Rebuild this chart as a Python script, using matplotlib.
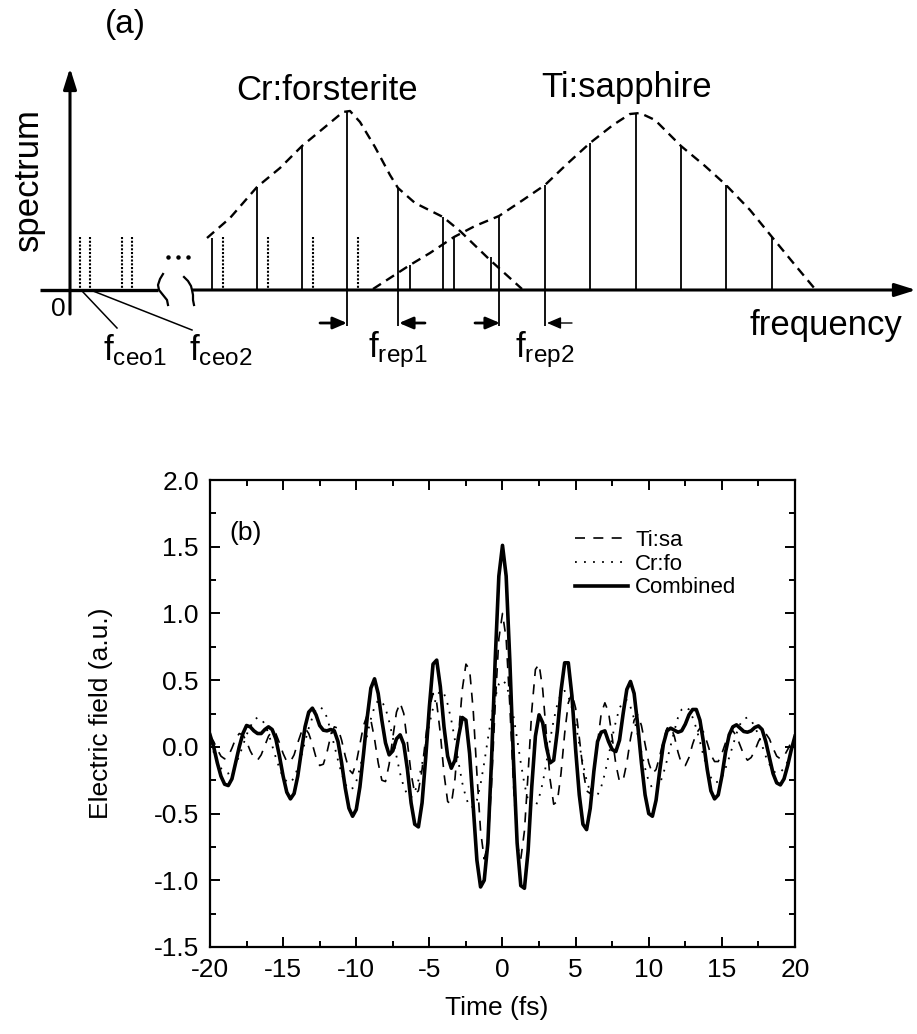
import matplotlib
matplotlib.use('Agg')
import matplotlib.pyplot as plt
import numpy as np

plt.rcParams['font.family'] = ['Liberation Sans', 'DejaVu Sans']
plt.rcParams['mathtext.fontset'] = 'custom'
plt.rcParams['mathtext.rm'] = 'Liberation Sans'
plt.rcParams['mathtext.it'] = 'Liberation Sans'
plt.rcParams['axes.unicode_minus'] = False

# ---------------- panel (a): comb schematic (page pixel coordinates) ----------------
BASE_Y = 290

# Cr:forsterite comb teeth (solid) and their heights
cr_comb_x = [212, 257, 302, 347, 398, 443, 491]
cr_comb_top = [238, 187, 145, 112, 188, 217, 257]
# Ti:sapphire comb teeth
ti_comb_x = [410, 454, 499, 545, 590, 636, 681, 726, 772]
ti_comb_top = [265, 237, 217, 185, 143, 113, 146, 185, 237]
# dotted (offset) teeth
ceo_comb_x = [80, 90, 122, 132, 223, 268, 313, 358]
ceo_comb_top = 237
# teeth that run down to the f_rep arrows
rep_teeth_x = [347, 398, 499, 545]

# dashed spectral envelopes
cr_env_x = [207, 230, 257, 280, 302, 325, 343, 350, 360, 375, 390, 398, 415, 443, 460, 490, 522]
cr_env_y = [238, 218, 187, 168, 146, 127, 112, 111, 122, 147, 175, 188, 203, 217, 231, 260, 289]
ti_env_x = [373, 390, 410, 430, 454, 475, 499, 523, 545, 567, 590, 613, 630, 640, 655, 681, 705,
            726, 750, 772, 795, 815]
ti_env_y = [289, 278, 265, 253, 237, 226, 216, 200, 185, 164, 143, 125, 114, 113, 120, 146, 166,
            185, 210, 237, 265, 289]

# axis break squiggles
brk_left_x = [163, 160, 158, 159, 163, 167, 168]
brk_left_y = [274, 279, 285, 290, 295, 300, 305]
brk_right_x = [184, 188, 191, 192, 193, 193, 194]
brk_right_y = [277, 281, 286, 290, 295, 300, 305]

# f_rep arrows (start x, end x)
rep_arrows = [(320, 347), (425, 399), (475, 500), (572, 547)]

# ---------------- panel (b): electric field vs time ----------------
time_fs = np.arange(-20, 20.001, 0.25)

combined = [
    0.09, 0.00, -0.12, -0.22, -0.28, -0.29, -0.24, -0.12, 0.00, 0.10,
    0.16, 0.15, 0.12, 0.10, 0.10, 0.13, 0.15, 0.13, 0.06, -0.07,
    -0.22, -0.34, -0.39, -0.35, -0.22, -0.03, 0.15, 0.26, 0.29, 0.24,
    0.16, 0.125, 0.12, 0.13, 0.12, 0.04, -0.12, -0.31, -0.46, -0.52,
    -0.47, -0.30, -0.05, 0.22, 0.44, 0.51, 0.40, 0.20, 0.03, -0.06,
    -0.03, 0.06, 0.09, 0.02, -0.17, -0.42, -0.58, -0.60, -0.42, -0.08,
    0.30, 0.62, 0.65, 0.45, 0.15, -0.07, -0.16, -0.10, 0.08, 0.22,
    0.20, -0.05, -0.45, -0.85, -1.05, -1.00, -0.72, -0.10, 0.65, 1.28,
    1.51, 1.28, 0.65, -0.10, -0.72, -1.04, -1.06, -0.78, -0.30, 0.08,
    0.24, 0.18, 0.00, -0.12, -0.10, 0.12, 0.42, 0.63, 0.63, 0.38,
    -0.02, -0.36, -0.58, -0.62, -0.46, -0.18, 0.04, 0.11, 0.12, 0.04,
    -0.02, -0.035, 0.05, 0.25, 0.43, 0.49, 0.40, 0.16, -0.12, -0.36,
    -0.50, -0.52, -0.40, -0.18, 0.02, 0.12, 0.14, 0.125, 0.11, 0.12,
    0.17, 0.24, 0.28, 0.28, 0.20, 0.03, -0.17, -0.33, -0.39, -0.36,
    -0.22, -0.04, 0.09, 0.15, 0.165, 0.14, 0.115, 0.11, 0.12, 0.145,
    0.157, 0.13, 0.04, -0.08, -0.20, -0.27, -0.285, -0.24, -0.14, -0.02,
    0.08]

ti_sa = [
    0.08, 0.04, -0.02, -0.07, -0.09, -0.07, -0.01, 0.06, 0.10, 0.09,
    0.04, -0.03, -0.08, -0.10, -0.06, 0.01, 0.08, 0.12, 0.10, 0.03,
    -0.05, -0.11, -0.11, -0.06, 0.03, 0.11, 0.14, 0.10, 0.02, -0.08,
    -0.14, -0.13, -0.04, 0.08, 0.15, 0.14, 0.05, -0.07, -0.17, -0.20,
    -0.12, 0.02, 0.16, 0.24, 0.20, 0.06, -0.12, -0.25, -0.26, -0.13,
    0.07, 0.26, 0.33, 0.25, 0.03, -0.20, -0.35, -0.33, -0.17, 0.07,
    0.29, 0.40, 0.33, 0.10, -0.20, -0.41, -0.43, -0.24, 0.10, 0.43,
    0.62, 0.58, 0.27, -0.20, -0.63, -0.84, -0.73, -0.28, 0.31, 0.81,
    1.00, 0.81, 0.31, -0.28, -0.73, -0.84, -0.63, -0.20, 0.27, 0.58,
    0.62, 0.43, 0.10, -0.24, -0.43, -0.41, -0.20, 0.10, 0.33, 0.40,
    0.29, 0.07, -0.17, -0.33, -0.35, -0.20, 0.03, 0.25, 0.33, 0.26,
    0.07, -0.13, -0.26, -0.25, -0.12, 0.06, 0.20, 0.24, 0.16, 0.02,
    -0.12, -0.20, -0.17, -0.07, 0.05, 0.14, 0.15, 0.08, -0.04, -0.13,
    -0.14, -0.08, 0.02, 0.10, 0.14, 0.11, 0.03, -0.06, -0.11, -0.11,
    -0.05, 0.03, 0.10, 0.12, 0.08, 0.01, -0.06, -0.10, -0.08, -0.03,
    0.04, 0.09, 0.10, 0.06, -0.01, -0.07, -0.09, -0.07, -0.02, 0.04,
    0.08]

cr_fo = [
    0.03, -0.04, -0.11, -0.16, -0.19, -0.20, -0.18, -0.13, -0.07, 0.01,
    0.09, 0.15, 0.20, 0.22, 0.21, 0.17, 0.10, 0.01, -0.08, -0.16,
    -0.23, -0.26, -0.27, -0.23, -0.16, -0.07, 0.04, 0.14, 0.22, 0.28,
    0.30, 0.28, 0.22, 0.12, 0.01, -0.10, -0.20, -0.28, -0.32, -0.31,
    -0.26, -0.16, -0.04, 0.09, 0.21, 0.30, 0.35, 0.34, 0.29, 0.19,
    0.07, -0.07, -0.20, -0.30, -0.36, -0.38, -0.34, -0.25, -0.13, 0.02,
    0.17, 0.29, 0.38, 0.42, 0.40, 0.32, 0.20, 0.05, -0.12, -0.27,
    -0.38, -0.45, -0.45, -0.40, -0.28, -0.12, 0.06, 0.23, 0.37, 0.47,
    0.50, 0.47, 0.37, 0.23, 0.06, -0.12, -0.28, -0.40, -0.45, -0.45,
    -0.38, -0.27, -0.12, 0.05, 0.20, 0.32, 0.40, 0.42, 0.38, 0.29,
    0.17, 0.02, -0.13, -0.25, -0.34, -0.38, -0.36, -0.30, -0.20, -0.07,
    0.07, 0.19, 0.29, 0.34, 0.35, 0.30, 0.21, 0.09, -0.04, -0.16,
    -0.26, -0.31, -0.32, -0.28, -0.20, -0.10, 0.01, 0.12, 0.22, 0.28,
    0.30, 0.28, 0.22, 0.14, 0.04, -0.07, -0.16, -0.23, -0.27, -0.26,
    -0.23, -0.16, -0.08, 0.01, 0.10, 0.17, 0.21, 0.22, 0.20, 0.15,
    0.09, 0.01, -0.07, -0.13, -0.18, -0.20, -0.19, -0.16, -0.11, -0.04,
    0.03]


def draw_comb(page):
    """Frequency comb sketch, panel (a)"""
    arrow_kw = dict(color='k', lw=2.2, shrinkA=0, shrinkB=0, mutation_scale=18,
                    arrowstyle='-|>,head_length=0.7,head_width=0.22')

    # axes of the sketch
    page.plot([40, 158], [BASE_Y, BASE_Y], color='k', lw=2.4, solid_capstyle='butt')
    page.annotate('', xy=(916, BASE_Y), xytext=(193, BASE_Y), arrowprops=arrow_kw)
    page.annotate('', xy=(70, 68), xytext=(70, 314), arrowprops=arrow_kw)
    page.plot(brk_left_x, brk_left_y, color='k', lw=1.6)
    page.plot(brk_right_x, brk_right_y, color='k', lw=1.6)
    page.plot([168, 178, 188], [257, 257, 257], 'ko', ms=2.2)

    # comb teeth
    page.vlines(cr_comb_x, cr_comb_top, BASE_Y, colors='k', lw=1.3)
    page.vlines(ti_comb_x, ti_comb_top, BASE_Y, colors='k', lw=1.3)
    page.vlines(ceo_comb_x, ceo_comb_top, BASE_Y, colors='k', lw=1.5,
                linestyles=(0, (1, 0.8)))
    page.vlines(rep_teeth_x, BASE_Y, 326, colors='k', lw=1.3)

    # envelopes
    page.plot(cr_env_x, cr_env_y, color='k', lw=1.7, ls=(0, (4, 2.6)))
    page.plot(ti_env_x, ti_env_y, color='k', lw=1.7, ls=(0, (4, 2.6)))

    # f_ceo pointers
    page.plot([82, 117], [291, 328], color='k', lw=1.1)
    page.plot([93, 192], [291, 330], color='k', lw=1.1)

    # f_rep arrows
    for i, (x0, x1) in enumerate(rep_arrows):
        lw = 1.0 if i == 3 else 2.0
        page.annotate('', xy=(x1, 323), xytext=(x0, 323),
                      arrowprops=dict(color='k', lw=lw, shrinkA=0, shrinkB=0,
                                      mutation_scale=12,
                                      arrowstyle='-|>,head_length=0.7,head_width=0.3'))

    # labels
    page.text(125, 24, '(a)', fontsize=24, ha='center', va='center')
    page.text(28, 180, 'spectrum', fontsize=25, rotation=90, ha='center', va='center')
    page.text(327, 90, 'Cr:forsterite', fontsize=25, ha='center', va='center')
    page.text(627, 88, 'Ti:sapphire', fontsize=25, ha='center', va='center')
    page.text(826, 325, 'frequency', fontsize=25, ha='center', va='center')
    page.text(58, 309, '0', fontsize=19, ha='center', va='center')
    page.text(135, 350, r'$\mathregular{f_{ceo1}}$', fontsize=25, ha='center', va='center')
    page.text(221, 350, r'$\mathregular{f_{ceo2}}$', fontsize=25, ha='center', va='center')
    page.text(398, 350, r'$\mathregular{f_{rep1}}$', fontsize=25, ha='center', va='center')
    page.text(545, 350, r'$\mathregular{f_{rep2}}$', fontsize=25, ha='center', va='center')


def draw_field(fig):
    """Electric field traces, panel (b)"""
    ax = fig.add_axes([210 / 917, 87 / 1034, 585 / 917, 467 / 1034])
    ax.plot(time_fs, ti_sa, color='k', lw=1.2, ls=(0, (6, 5)), label='Ti:sa')
    ax.plot(time_fs, cr_fo, color='k', lw=1.3, ls=(0, (1, 4)), label='Cr:fo')
    ax.plot(time_fs, combined, color='k', lw=2.6, solid_joinstyle='round',
            label='Combined')

    ax.set_xlim(-20, 20)
    ax.set_ylim(-1.5, 2.0)
    ax.set_xticks(np.arange(-20, 21, 5))
    ax.set_xticks(np.arange(-20, 21, 2.5), minor=True)
    ax.set_yticks(np.arange(-1.5, 2.01, 0.5))
    ax.set_yticks(np.arange(-1.5, 2.01, 0.25), minor=True)
    ax.set_yticklabels(['%.1f' % v for v in np.arange(-1.5, 2.01, 0.5)])
    ax.tick_params(which='both', direction='in', top=True, right=True, width=1.4)
    ax.tick_params(which='major', length=7, labelsize=19, pad=8)
    ax.tick_params(which='minor', length=4)
    for sp in ax.spines.values():
        sp.set_linewidth(1.6)

    ax.set_xlabel('Time (fs)', fontsize=19)
    ax.set_ylabel('Electric field (a.u.)', fontsize=19)
    ax.xaxis.set_label_coords(0.49, -0.105)
    ax.yaxis.set_label_coords(-0.165, 0.5)

    ax.text(-17.6, 1.6, '(b)', fontsize=19, ha='center', va='center')
    ax.legend(loc='upper left', bbox_to_anchor=(575 / 917, 1 - 530 / 1034),
              bbox_transform=fig.transFigure, frameon=False, fontsize=16,
              handlelength=2.4, handletextpad=0.3, labelspacing=0.12,
              borderpad=0, borderaxespad=0)
    return ax


def main():
    fig = plt.figure(figsize=(9.17, 10.34), dpi=100)
    page = fig.add_axes([0, 0, 1, 1])
    page.set_xlim(0, 917)
    page.set_ylim(1034, 0)
    page.axis('off')

    draw_comb(page)
    draw_field(fig)

    fig.savefig('out.png', dpi=100)


if __name__ == "__main__":
    main()
